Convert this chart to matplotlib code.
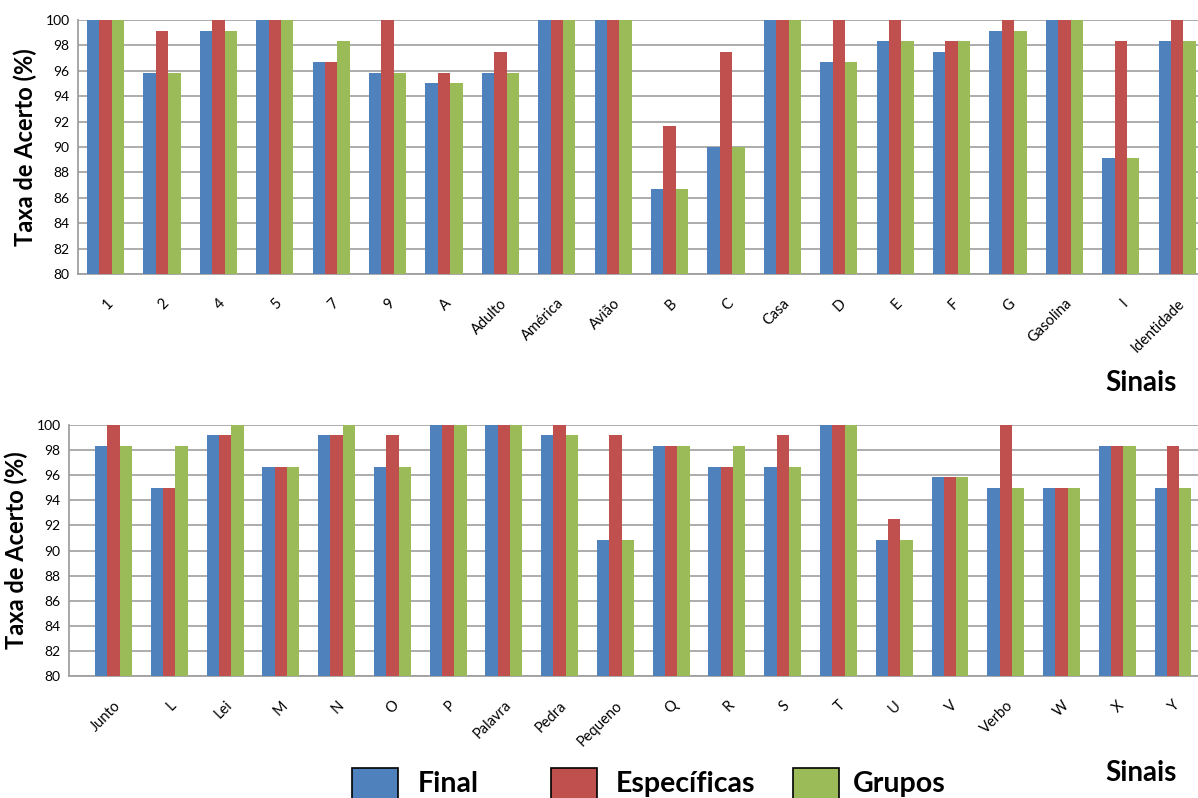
import numpy as np
import matplotlib
matplotlib.use("Agg")
import matplotlib.pyplot as plt
from matplotlib.patches import Rectangle

plt.rcParams['font.family'] = ['Lato', 'DejaVu Sans']

# Recognition rate per sign (%), three model variants
signs_top = ["1", "2", "4", "5", "7", "9", "A", "Adulto", "América", "Avião",
             "B", "C", "Casa", "D", "E", "F", "G", "Gasolina", "I", "Identidade"]
final_top = [100, 95.83, 99.17, 100, 96.67, 95.83, 95.0, 95.83, 100, 100,
             86.67, 90.0, 100, 96.67, 98.33, 97.5, 99.17, 100, 89.17, 98.33]
especificas_top = [100, 99.17, 100, 100, 96.67, 100, 95.83, 97.5, 100, 100,
                   91.67, 97.5, 100, 100, 100, 98.33, 100, 100, 98.33, 100]
grupos_top = [100, 95.83, 99.17, 100, 98.33, 95.83, 95.0, 95.83, 100, 100,
              86.67, 90.0, 100, 96.67, 98.33, 98.33, 99.17, 100, 89.17, 98.33]

signs_bot = ["Junto", "L", "Lei", "M", "N", "O", "P", "Palavra", "Pedra", "Pequeno",
             "Q", "R", "S", "T", "U", "V", "Verbo", "W", "X", "Y"]
final_bot = [98.33, 95.0, 99.17, 96.67, 99.17, 96.67, 100, 100, 99.17, 90.83,
             98.33, 96.67, 96.67, 100, 90.83, 95.83, 95.0, 95.0, 98.33, 95.0]
especificas_bot = [100, 95.0, 99.17, 96.67, 99.17, 99.17, 100, 100, 100, 99.17,
                   98.33, 96.67, 99.17, 100, 92.5, 95.83, 100, 95.0, 98.33, 98.33]
grupos_bot = [98.33, 98.33, 100, 96.67, 100, 96.67, 100, 100, 99.17, 90.83,
              98.33, 98.33, 96.67, 100, 90.83, 95.83, 95.0, 95.0, 98.33, 95.0]

series_names = ["Final", "Específicas", "Grupos"]
colors = ["#4F81BD", "#C0504D", "#9BBB59"]
yticks = list(range(80, 101, 2))

W, H = 1198, 798
fig = plt.figure(figsize=(W / 100, H / 100), dpi=100)


def panel(rect, labels, series, xlim):
    ax = fig.add_axes(rect)
    x = np.arange(len(labels))
    bw = 0.22
    for i, (vals, c) in enumerate(zip(series, colors)):
        ax.bar(x + (i - 1) * bw, np.array(vals) - 80, bottom=80, width=bw,
               color=c, edgecolor="none", zorder=3)
    ax.set_ylim(80, 100)
    ax.set_xlim(*xlim)
    ax.set_yticks(yticks)
    ax.set_yticklabels([str(t) for t in yticks], fontsize=10)
    ax.set_xticks(x)
    ax.set_xticklabels(labels, rotation=45, ha="right", rotation_mode="anchor",
                       fontsize=10.5)
    ax.tick_params(axis="both", length=0, pad=6)
    ax.tick_params(axis="x", pad=16)
    ax.yaxis.grid(True, color="#A6A6A6", linewidth=1.3, zorder=0)
    ax.set_axisbelow(True)
    for s in ["top", "right"]:
        ax.spines[s].set_visible(False)
    for s in ["left", "bottom"]:
        ax.spines[s].set_color("#A0A0A0")
        ax.spines[s].set_linewidth(1.3)
    ax.set_ylabel("Taxa de Acerto (%)", fontsize=17, fontweight="bold", labelpad=6)
    return ax


def fx(px):
    return px / W


def fy(py):
    return 1 - py / H


panel([fx(78), fy(274), 1 - fx(78), fy(20) - fy(274)], signs_top,
      [final_top, especificas_top, grupos_top], (-0.49, 19.37))
panel([fx(69), fy(676), 1 - fx(69), fy(425) - fy(676)], signs_bot,
      [final_bot, especificas_bot, grupos_bot], (-0.80, 19.45))

fig.text(fx(1141), fy(383), "Sinais", fontsize=20, fontweight="bold",
         ha="center", va="center")
fig.text(fx(1141), fy(773), "Sinais", fontsize=20, fontweight="bold",
         ha="center", va="center")

# Legend row along the lower edge
box_x = [352, 551, 793]
text_x = [418, 616, 853]
for bx, tx, c, name in zip(box_x, text_x, colors, series_names):
    fig.add_artist(Rectangle((fx(bx), fy(812)), fx(46), fy(768) - fy(812),
                             transform=fig.transFigure, facecolor=c,
                             edgecolor="black", linewidth=1.2))
    fig.text(fx(tx), fy(784), name, fontsize=20.5, fontweight="bold",
             ha="left", va="center")

fig.savefig("out.png", dpi=100)
